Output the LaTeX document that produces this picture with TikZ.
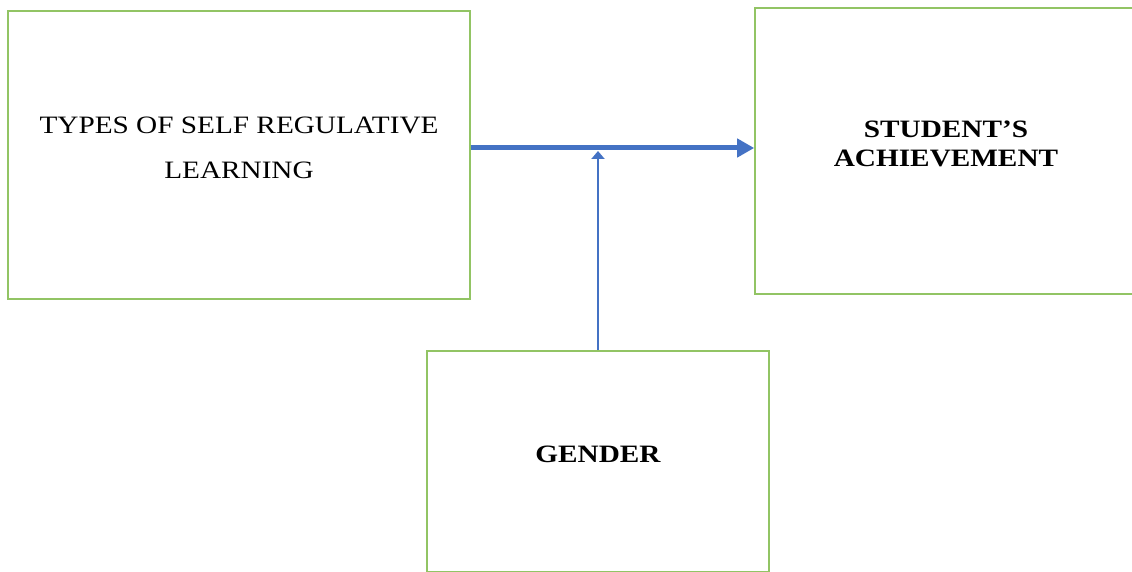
\documentclass[tikz,border=0pt]{standalone}
\usepackage{fontspec}
\setmainfont{Liberation Serif}[FakeStretch=1.17]
\usetikzlibrary{arrows.meta}

\definecolor{boxgreen}{RGB}{146,196,100}
\definecolor{arrowblue}{RGB}{68,114,196}

\tikzset{
  box/.style={draw=boxgreen, line width=1.6pt},
  plain/.style={align=center, yshift=7pt, font=\fontsize{25}{45}\selectfont},
  heavy/.style={align=center, yshift=7pt, font=\fontsize{25}{29}\selectfont\bfseries},
  mainarrow/.style={draw=arrowblue, line width=5pt, -{Triangle[length=17pt,width=18pt]}},
  sidearrow/.style={draw=arrowblue, line width=2pt, -{Triangle[length=8pt,width=13pt]}}
}

\begin{document}
\begin{tikzpicture}[x=1pt, y=-1pt]
 \useasboundingbox (0,0) rectangle (1132,572);
 \clip (0,0) rectangle (1132,572);

% define the boxes
  \node[box, minimum width=462pt, minimum height=288pt,
        label={[plain]center:TYPES OF SELF REGULATIVE\\LEARNING}] (types) at (239,155) {};
  \node[box, minimum width=382pt, minimum height=286pt,
        label={[heavy]center:STUDENT’S\\ACHIEVEMENT}] (achieve) at (946,151) {};
  \node[box, minimum width=342pt, minimum height=221pt,
        label={[heavy]center:GENDER}] (gender) at (598,461.5) {};

% meeting point on the main line
  \coordinate (meet) at (598,151);

% define the links
  \draw[mainarrow] ([yshift=7pt]types.east) -- ([yshift=3pt]achieve.west);
  \draw[sidearrow] (gender.north) -- (meet);

\end{tikzpicture}
\end{document}
